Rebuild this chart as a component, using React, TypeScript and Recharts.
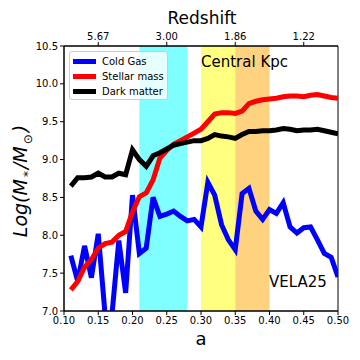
import { LineChart, Line, XAxis, YAxis, ReferenceArea } from "recharts";

// scale factor a of each snapshot
const aValues = [
  0.11, 0.12, 0.13, 0.14, 0.15, 0.16, 0.17, 0.18, 0.19, 0.2,
  0.21, 0.22, 0.23, 0.24, 0.25, 0.26, 0.27, 0.28, 0.29, 0.3,
  0.31, 0.32, 0.33, 0.34, 0.35, 0.36, 0.37, 0.38, 0.39, 0.4,
  0.41, 0.42, 0.43, 0.44, 0.45, 0.46, 0.47, 0.48, 0.49, 0.5,
];

const coldGas = [
  7.73, 7.39, 7.86, 7.44, 8.02, 6.95, 6.95, 7.93, 7.24, 8.53,
  7.76, 7.83, 8.5, 8.25, 8.28, 8.32, 8.25, 8.19, 8.21, 8.11,
  8.7, 8.53, 8.14, 7.94, 7.81, 8.55, 8.62, 8.32, 8.21, 8.34,
  8.29, 8.43, 8.11, 8.03, 8.1, 8.11, 7.94, 7.76, 7.71, 7.45,
];

const stellarMass = [
  7.28, 7.39, 7.58, 7.68, 7.83, 7.89, 7.91, 8.0, 8.05, 8.31,
  8.51, 8.56, 8.73, 9.02, 9.12, 9.2, 9.25, 9.3, 9.35, 9.4,
  9.5, 9.6, 9.62, 9.62, 9.61, 9.64, 9.74, 9.77, 9.79, 9.8,
  9.81, 9.83, 9.84, 9.84, 9.83, 9.85, 9.86, 9.84, 9.82, 9.81,
];

const darkMatter = [
  8.65, 8.76, 8.76, 8.77, 8.82, 8.77, 8.77, 8.82, 8.8, 9.13,
  9.0, 8.91, 9.05, 9.09, 9.14, 9.19, 9.21, 9.23, 9.25, 9.25,
  9.28, 9.33, 9.31, 9.3, 9.28, 9.33, 9.37, 9.37, 9.38, 9.38,
  9.39, 9.41, 9.4, 9.38, 9.39, 9.39, 9.4, 9.38, 9.36, 9.34,
];

const xTicks = [0.1, 0.15, 0.2, 0.25, 0.3, 0.35, 0.4, 0.45, 0.5];
const yTicks = [7.0, 7.5, 8.0, 8.5, 9.0, 9.5, 10.0, 10.5];
const zTicks = [0.15, 0.25, 0.35, 0.45];
const zLabels = ["5.67", "3.00", "1.86", "1.22"];

const SERIES = [
  { key: "cold", color: "#0000ff", label: "Cold Gas" },
  { key: "stars", color: "#ff0000", label: "Stellar mass" },
  { key: "dm", color: "#000000", label: "Dark matter" },
];

const data = aValues.map((a, i) => ({
  a,
  cold: coldGas[i],
  stars: stellarMass[i],
  dm: darkMatter[i],
}));

const FONT = "'DejaVu Sans', sans-serif";
const tickStyle = { fontSize: 10, fill: "#000", fontFamily: FONT };

export default function App() {
  return (
    <div style={{ position: "absolute", left: 0, top: 0, width: 360, height: 360, background: "#fff", fontFamily: FONT }}>
      <LineChart width={360} height={360} data={data} margin={{ top: 16, right: 22, bottom: 19, left: 24 }}>
        <XAxis
          dataKey="a"
          type="number"
          domain={[0.1, 0.5]}
          ticks={xTicks}
          tickFormatter={(v) => Number(v).toFixed(2)}
          tick={tickStyle}
          tickSize={4}
          height={30}
          stroke="#000"
          allowDataOverflow
        />
        <XAxis
          xAxisId="top"
          dataKey="a"
          type="number"
          orientation="top"
          domain={[0.1, 0.5]}
          ticks={zTicks}
          tickFormatter={(v) => zLabels[zTicks.indexOf(v)] ?? ""}
          tick={tickStyle}
          tickSize={4}
          height={30}
          stroke="#000"
          allowDataOverflow
        />
        <YAxis
          type="number"
          domain={[7, 10.5]}
          ticks={yTicks}
          tickFormatter={(v) => Number(v).toFixed(1)}
          tick={tickStyle}
          tickSize={4}
          width={40}
          stroke="#000"
          allowDataOverflow
        />
        <ReferenceArea x1={0.21} x2={0.28} y1={7} y2={10.5} fill="#00ffff" fillOpacity={0.5} stroke="none" />
        <ReferenceArea x1={0.3} x2={0.35} y1={7} y2={10.5} fill="#ffff00" fillOpacity={0.5} stroke="none" />
        <ReferenceArea x1={0.35} x2={0.4} y1={7} y2={10.5} fill="#ffa500" fillOpacity={0.5} stroke="none" />
        {SERIES.map(({ key, color }) => (
          <Line
            key={key}
            dataKey={key}
            type="linear"
            stroke={color}
            strokeWidth={5}
            dot={false}
            isAnimationActive={false}
          />
        ))}
        <ReferenceArea x1={0.1} x2={0.5} y1={7} y2={10.5} fill="none" stroke="#000" strokeWidth={1} />
      </LineChart>

      {/* titles and annotations */}
      <div style={{ position: "absolute", left: 0, width: 404, top: 8, textAlign: "center", fontSize: 17 }}>Redshift</div>
      <div style={{ position: "absolute", left: 0, width: 402, top: 328, textAlign: "center", fontSize: 18 }}>a</div>
      <div style={{ position: "absolute", left: 201, top: 53, fontSize: 15 }}>Central Kpc</div>
      <div style={{ position: "absolute", left: 269, top: 273, fontSize: 15 }}>VELA25</div>
      <div
        style={{
          position: "absolute",
          left: 22,
          top: 181,
          transform: "translate(-50%, -50%) rotate(-90deg)",
          whiteSpace: "nowrap",
          fontSize: 19,
          fontStyle: "italic",
        }}
      >
        Log(M<sub style={{ fontSize: 12, fontStyle: "normal", margin: "0 2px" }}>*</sub>/M
        <sub style={{ fontSize: 12, fontStyle: "normal", margin: "0 2px" }}>⊙</sub>)
      </div>

      {/* legend */}
      <div
        style={{
          position: "absolute",
          left: 69,
          top: 51,
          width: 97,
          height: 47,
          border: "1px solid #ccc",
          borderRadius: 3,
          background: "rgba(255,255,255,0.8)",
          fontSize: 10,
        }}
      >
        {SERIES.map(({ key, color, label }, i) => (
          <div
            key={key}
            style={{ position: "absolute", left: 3, top: 2 + i * 15, height: 14, display: "flex", alignItems: "center", whiteSpace: "nowrap" }}
          >
            <span style={{ width: 23, height: 5, background: color, display: "inline-block", marginRight: 6 }} />
            {label}
          </div>
        ))}
      </div>
    </div>
  );
}
